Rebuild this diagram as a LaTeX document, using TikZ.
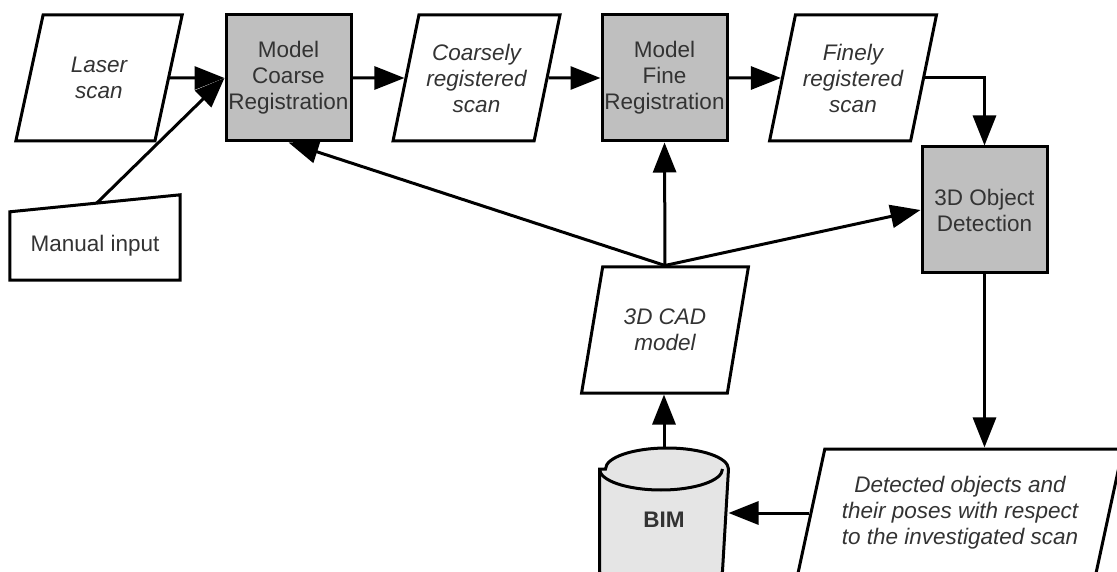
\documentclass[tikz,border=0pt]{standalone}
\usepackage{fontspec}
\setmainfont{Liberation Sans}
\usetikzlibrary{arrows.meta,shapes.geometric,calc,backgrounds}

\begin{document}
\begin{tikzpicture}[x=1pt, y=1pt, every node/.style={font=\fontsize{22.5}{26}\selectfont, text=black!80, align=center}, proc/.style={rectangle, draw=black, line width=3pt, fill=black!25, minimum width=125pt, minimum height=126pt, inner sep=0pt}, data/.style={trapezium, trapezium left angle=72, trapezium right angle=108, trapezium stretches=true, draw=black, line width=3pt, minimum width=167pt, minimum height=126pt, inner sep=1pt, font=\fontsize{22.5}{26}\selectfont\itshape}, db/.style={rectangle, minimum width=126pt, minimum height=144pt, outer sep=1.5pt, font=\fontsize{22.5}{26}\selectfont\bfseries}, outline/.style={draw=black, line width=3pt}, arr/.style={-{Triangle[length=30pt, width=23pt]}, line width=3pt}]
\useasboundingbox (0,0) rectangle (1117,-572);
\clip (0,0) rectangle (1117,-572);
\node[data] (laser) at (99,-78) {Laser\\scan};
\node[proc] (coarse) at (288.5,-78) {Model\\Coarse\\Registration};
\node[data] (coarsely) at (476.5,-78) {Coarsely\\registered\\scan};
\node[proc] (fine) at (664.5,-78) {Model\\Fine\\Registration};
\node[data] (finely) at (853,-78) {Finely\\registered\\scan};
\node[proc] (detect) at (984.5,-210) {3D Object\\Detection};
\node[data] (cad) at (665,-330) {3D CAD\\model};
\node[db] (bim) at (664,-520) {BIM};
\node[data, minimum width=326pt, minimum height=128pt] (detected) at (960,-513) {Detected objects and\\their poses with respect\\to the investigated scan};
\node[minimum width=170pt, minimum height=68pt] (manual) at (95,-246) {Manual input};
% shapes behind the labels
\begin{scope}[on background layer]
\draw[outline, fill=black!10] ([yshift=-22.5pt]bim.north west) -- ([yshift=22.5pt]bim.south west) arc[start angle=180, end angle=360, x radius=61.5pt, y radius=21pt] -- ([yshift=-22.5pt]bim.north east) arc[start angle=0, end angle=180, x radius=61.5pt, y radius=21pt] -- cycle;
\draw[outline] ([yshift=-22.5pt]bim.north west) arc[start angle=180, end angle=360, x radius=61.5pt, y radius=21pt];
\draw[outline] (manual.south west) -- (manual.south east) -- ([yshift=17pt]manual.north east) -- (manual.north west) -- cycle;
\end{scope}
\coordinate (mtop) at ($(manual.north west)!0.51!([yshift=17pt]manual.north east)$);
\coordinate (cadtop) at (cad.center |- cad.north);
\draw[arr] (laser) -- (coarse.west); \draw[arr] (mtop) -- (coarse.west); \draw[arr] (coarse) -- (coarsely); \draw[arr] (coarsely) -- (fine); \draw[arr] (fine) -- (finely);
\draw[arr] (finely.east) -| (detect.north);
\draw[arr] (cadtop) -- (coarse.south); \draw[arr] (cadtop) -- (fine.south); \draw[arr] (cadtop) -- (detect.west);
\draw[arr] (bim.north) -- (bim.north |- cad.south);
\draw[arr] (detect.south) -- (detect.south |- detected.north);
\draw[arr] (detected.west) -- (detected.west -| bim.east);
\end{tikzpicture}
\end{document}
